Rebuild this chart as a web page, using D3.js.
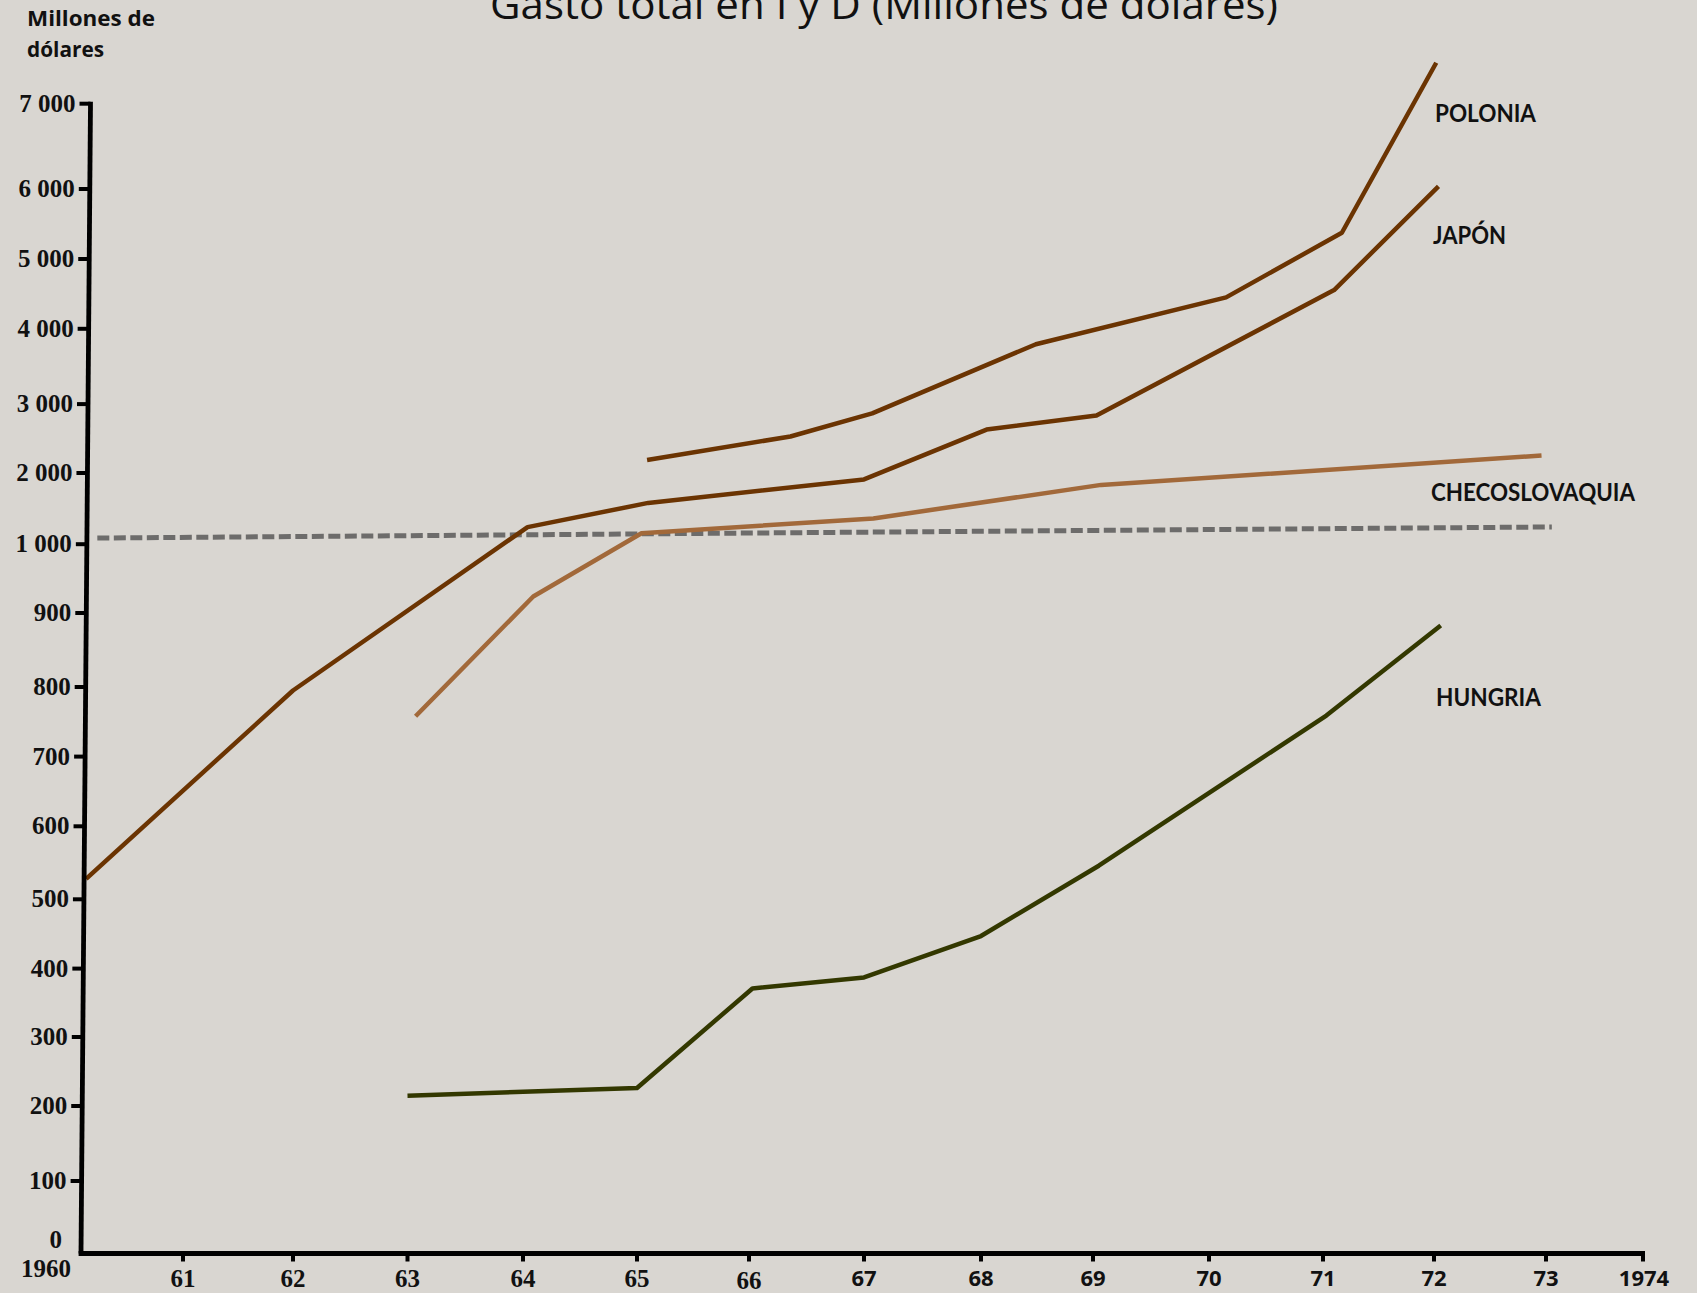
<!DOCTYPE html>
<html>
<head>
<meta charset="utf-8">
<script src="https://cdn.jsdelivr.net/npm/d3@7"></script>
<style>
  html, body { margin: 0; padding: 0; background: #D9D6D1; }
  svg { display: block; }
</style>
</head>
<body>
<svg id="chart" width="1697" height="1293"></svg>
<script>
// ---- data ----------------------------------------------------------------
// Year axis (hand-spaced ticks) and the broken value axis (0–1 000 by 100s,
// then 1 000–7 000 by 1 000s).
const yearTicks = [1960, 1961, 1962, 1963, 1964, 1965, 1966, 1967, 1968, 1969, 1970, 1971, 1972, 1973, 1974];
const yearLabels = ["1960", "61", "62", "63", "64", "65", "66", "67", "68", "69", "70", "71", "72", "73", "1974"];
const valueTicks = [0, 100, 200, 300, 400, 500, 600, 700, 800, 900, 1000, 2000, 3000, 4000, 5000, 6000, 7000];
const valueLabels = ["0", "100", "200", "300", "400", "500", "600", "700", "800", "900",
                     "1 000", "2 000", "3 000", "4 000", "5 000", "6 000", "7 000"];

// Gasto total en I y D, millones de dólares
const poloniaYears = [1965.09, 1966.36, 1967.07, 1968.49, 1970.15, 1971.17, 1972.02];
const poloniaValues = [2190, 2530, 2865, 3795, 4450, 5375, 7480];

const japonYears = [1960.05, 1962.0, 1964.04, 1965.1, 1967.0, 1968.05, 1969.03, 1971.1, 1972.04];
const japonValues = [528, 795, 1240, 1580, 1910, 2630, 2835, 4555, 6030];

const checoYears = [1963.07, 1964.09, 1965.04, 1967.08, 1969.07, 1972.96];
const checoValues = [758, 924, 1153, 1362, 1833, 2253];

const hungriaYears = [1963.0, 1965.0, 1966.03, 1967.0, 1968.0, 1969.05, 1971.03, 1972.06];
const hungriaValues = [215, 226, 371, 387, 447, 546, 759, 883];

const refYears = [1960.16, 1973.06];
const refValues = [1087, 1242];

// ---- layout --------------------------------------------------------------
const xStops = [81, 183, 293, 407.5, 523, 637, 749, 864, 981, 1093, 1209, 1323, 1434, 1546, 1643];
const yStops = [1254, 1181, 1106, 1037, 968.6, 899.3, 826.3, 756.6, 687, 613, 544.2,
                473, 404.1, 328.8, 259, 189, 103.7];
const axisBottom = { x: 81, y: 1253.5 };
const axisTopX = 90.5;

const x = d3.scaleLinear().domain(yearTicks).range(xStops);
const y = d3.scaleLinear().domain(valueTicks).range(yStops);

// the value axis leans slightly to the right as it rises
const axisX = py => axisBottom.x + (axisBottom.y - py) * (axisTopX - axisBottom.x) / (axisBottom.y - y(7000));

const svg = d3.select("#chart");
svg.append("rect").attr("width", 1697).attr("height", 1293).attr("fill", "#D9D6D1");

// ---- title and unit ------------------------------------------------------
svg.append("text")
  .attr("x", 490).attr("y", 19)
  .attr("textLength", 788).attr("lengthAdjust", "spacingAndGlyphs")
  .style("font-family", "'Open Sans', sans-serif").style("font-size", "40px")
  .attr("fill", "#111")
  .text("Gasto total en I y D (Millones de dólares)");

const unit = svg.append("g")
  .style("font-family", "'Open Sans', sans-serif").style("font-weight", "bold")
  .style("font-size", "22px").attr("fill", "#111");
unit.append("text").attr("x", 27).attr("y", 26)
  .attr("textLength", 128).attr("lengthAdjust", "spacingAndGlyphs").text("Millones de");
unit.append("text").attr("x", 27).attr("y", 57)
  .attr("textLength", 77).attr("lengthAdjust", "spacingAndGlyphs").text("dólares");

// ---- series --------------------------------------------------------------
const series = [
  { name: "POLONIA", years: poloniaYears, values: poloniaValues, color: "#6B3402", width: 4.5 },
  { name: "JAPÓN", years: japonYears, values: japonValues, color: "#6B3402", width: 4.5 },
  { name: "CHECOSLOVAQUIA", years: checoYears, values: checoValues, color: "#A2693A", width: 4.5 },
  { name: "HUNGRIA", years: hungriaYears, values: hungriaValues, color: "#333800", width: 4.5 }
];

const line = d3.line().x(d => x(d[0])).y(d => y(d[1]));

// dashed reference level near 1 000
svg.append("path")
  .attr("d", line(d3.zip(refYears, refValues)))
  .attr("fill", "none").attr("stroke", "#6D6C6B")
  .attr("stroke-width", 5).attr("stroke-dasharray", "12,4.5");

svg.append("g").selectAll("path").data(series).join("path")
  .attr("d", s => line(d3.zip(s.years, s.values)))
  .attr("fill", "none")
  .attr("stroke", s => s.color)
  .attr("stroke-width", s => s.width)
  .attr("stroke-linejoin", "round");

// series names beside the line ends
const nameSpots = {
  "POLONIA": [1435, 122, 101],
  "JAPÓN": [1433, 244, 73],
  "CHECOSLOVAQUIA": [1431, 501, 204],
  "HUNGRIA": [1436, 706, 105]
};
svg.append("g")
  .style("font-family", "Lato, 'Open Sans', sans-serif").style("font-weight", "bold")
  .style("font-size", "24px").attr("fill", "#111")
  .selectAll("text").data(series).join("text")
  .attr("x", s => nameSpots[s.name][0])
  .attr("y", s => nameSpots[s.name][1])
  .attr("textLength", s => nameSpots[s.name][2])
  .attr("lengthAdjust", "spacingAndGlyphs")
  .text(s => s.name);

// ---- axes ----------------------------------------------------------------
const axes = svg.append("g").attr("stroke", "#000").attr("stroke-linecap", "square");

// value axis
axes.append("line")
  .attr("x1", axisX(y(7000) - 2)).attr("y1", y(7000) - 2)
  .attr("x2", axisBottom.x).attr("y2", axisBottom.y)
  .attr("stroke-width", 4.8).attr("stroke-linecap", "butt");

// year axis
axes.append("line")
  .attr("x1", axisBottom.x - 2.4).attr("y1", axisBottom.y)
  .attr("x2", x(1974) + 2).attr("y2", axisBottom.y)
  .attr("stroke-width", 5).attr("stroke-linecap", "butt");

// value ticks (not at 0)
const vTicks = valueTicks.filter(v => v > 0);
axes.selectAll(".vtick").data(vTicks).join("line")
  .attr("x1", v => axisX(y(v)) - 11).attr("x2", v => axisX(y(v)))
  .attr("y1", v => y(v)).attr("y2", v => y(v))
  .attr("stroke-width", 4).attr("stroke-linecap", "butt");

// year ticks (not at 1960)
const yTicksX = yearTicks.filter(t => t > 1960);
axes.selectAll(".ytick").data(yTicksX).join("line")
  .attr("x1", t => x(t)).attr("x2", t => x(t))
  .attr("y1", axisBottom.y).attr("y2", axisBottom.y + 8)
  .attr("stroke-width", 4).attr("stroke-linecap", "butt");

// value labels
svg.append("g")
  .style("font-family", "'Liberation Serif', 'Times New Roman', serif").style("font-weight", "bold")
  .style("font-size", "25px").attr("fill", "#111").attr("text-anchor", "end")
  .selectAll("text").data(valueTicks).join("text")
  .attr("x", v => v === 0 ? 62 : axisX(y(v)) - 15)
  .attr("y", v => v === 0 ? 1248 : y(v) + 8)
  .text((v, i) => valueLabels[i]);

// year labels: serif on the left part of the axis, sans from 1967 on
svg.append("g")
  .attr("fill", "#111").attr("text-anchor", "middle").style("font-weight", "bold")
  .selectAll("text").data(yearTicks).join("text")
  .attr("x", t => t === 1960 ? 46 : (t === 1974 ? 1644 : x(t)))
  .attr("y", t => t === 1960 ? 1277 : (t === 1966 ? 1289 : (t >= 1967 ? 1286 : 1287)))
  .style("font-family", t => t >= 1967
    ? "'Open Sans', sans-serif"
    : "'Liberation Serif', 'Times New Roman', serif")
  .style("font-size", t => t >= 1967 ? "22px" : "25px")
  .text((t, i) => yearLabels[i]);
</script>
</body>
</html>
